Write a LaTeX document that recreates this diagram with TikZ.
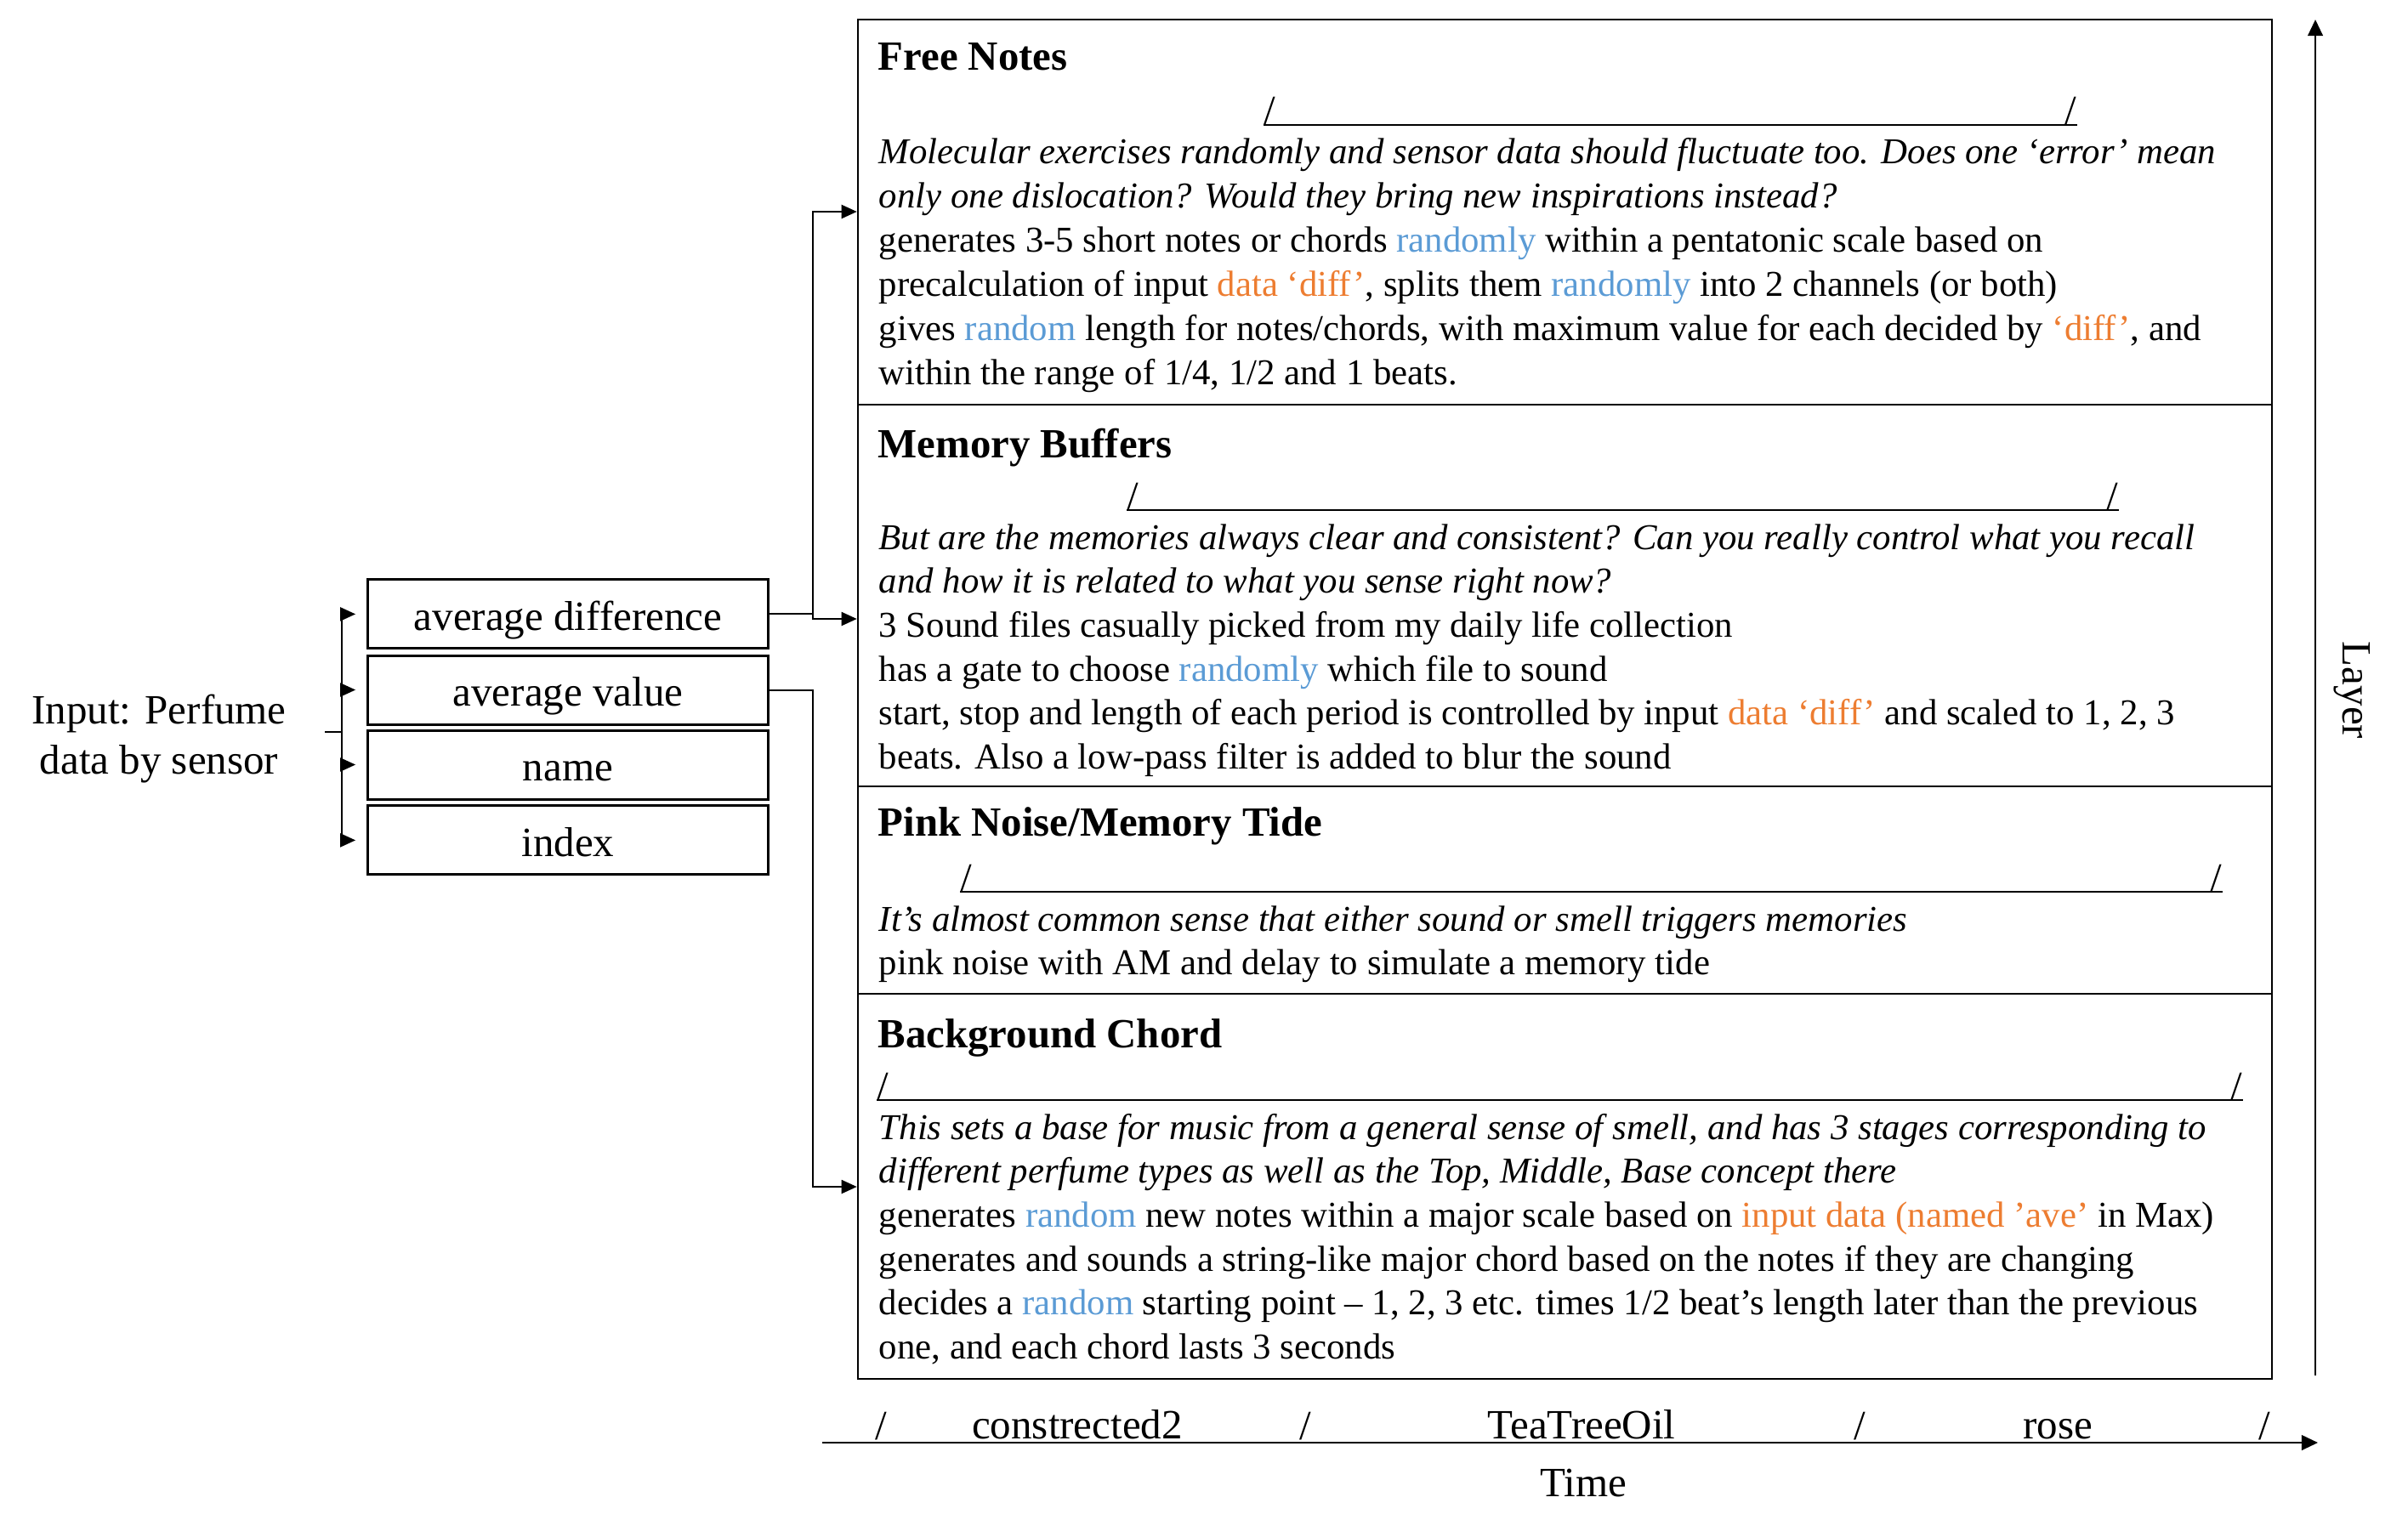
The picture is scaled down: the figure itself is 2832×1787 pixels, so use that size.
\documentclass[tikz,border=0pt]{standalone}
\usepackage{fontspec}
\setmainfont{Liberation Serif}
\usetikzlibrary{arrows.meta,fit}
\definecolor{rblue}{HTML}{5B9BD5}
\definecolor{rorange}{HTML}{ED7D31}
\newcommand{\bl}[1]{\textcolor{rblue}{#1}}
\newcommand{\orr}[1]{\textcolor{rorange}{#1}}
\newcommand{\slashline}[4]{%
  \node[slashch, anchor=base west] (#1a) at (#2,#4) {/};
  \node[slashch, anchor=base east] (#1b) at (#3,#4) {/};
  \draw[sline] (#1a.base west) -- (#1b.base east);}
\begin{document}
\begin{tikzpicture}[x=0.25pt,y=-0.25pt,
  body/.style={anchor=base west, inner sep=0, font=\fontsize{10.7}{13}\selectfont},
  ibody/.style={anchor=base west, inner sep=0, font=\fontsize{10.7}{13}\selectfont\itshape},
  ttl/.style={anchor=base west, inner sep=0, font=\fontsize{12.2}{14}\selectfont\bfseries},
  lbl/.style={inner sep=0, font=\fontsize{12.25}{14}\selectfont},
  slashch/.style={inner sep=0, font=\fontsize{12.25}{14}\selectfont},
  sline/.style={line width=0.55pt},
  sec/.style={draw, line width=0.65pt, inner sep=0},
  inbox/.style={draw, line width=0.75pt, inner sep=0, minimum width=117.6pt, minimum height=20.25pt,
     font=\fontsize{12.25}{14}\selectfont, text height=11pt, text depth=1.5pt},
  conn/.style={line width=0.5pt},
  arr/.style={line width=0.5pt, -{Triangle[length=4.5pt,width=4pt]}},
  axarr/.style={line width=0.65pt, -{Triangle[length=4.8pt,width=4.4pt]}}
]
\useasboundingbox (0,0) rectangle (2832,1787);

% section boxes
\node[sec, fit={(1009,23) (2672,476)}] (fn) {};
\node[sec, fit={(1009,476) (2672,925)}] (mb) {};
\node[sec, fit={(1009,925) (2672,1169)}] (pn) {};
\node[sec, fit={(1009,1169) (2672,1622)}] (bc) {};

% Free Notes
\node[ttl] (fnt) at (1032,83) {Free Notes};
\slashline{fns}{1486}{2443}{147}
\node[ibody] (fn1) at (1033,193) {Molecular exercises randomly and sensor data should fluctuate too. Does one ‘error’ mean};
\node[ibody] (fn2) at (1033,244.8) {only one dislocation? Would they bring new inspirations instead?};
\node[body] (fn3) at (1033,296.6) {generates 3-5 short notes or chords \bl{randomly} within a pentatonic scale based on};
\node[body] (fn4) at (1033,348.4) {precalculation of input \orr{data ‘diff’}, splits them \bl{randomly} into 2 channels (or both)};
\node[body] (fn5) at (1033,400.2) {gives \bl{random} length for notes/chords, with maximum value for each decided by \orr{‘diff’}, and};
\node[body] (fn6) at (1033,452) {within the range of 1/4, 1/2 and 1 beats.};

% Memory Buffers
\node[ttl] (mbt) at (1032,538) {Memory Buffers};
\slashline{mbs}{1325}{2492}{600}
\node[ibody] (mb1) at (1033,646) {But are the memories always clear and consistent? Can you really control what you recall};
\node[ibody] (mb2) at (1033,697.7) {and how it is related to what you sense right now?};
\node[body] (mb3) at (1033,749.4) {3 Sound files casually picked from my daily life collection};
\node[body] (mb4) at (1033,801) {has a gate to choose \bl{randomly} which file to sound};
\node[body] (mb5) at (1033,852.8) {start, stop and length of each period is controlled by input \orr{data ‘diff’} and scaled to 1, 2, 3};
\node[body] (mb6) at (1033,904.5) {beats. Also a low-pass filter is added to blur the sound};

% Pink Noise
\node[ttl] (pnt) at (1032,983.5) {Pink Noise/Memory Tide};
\slashline{pns}{1129}{2614}{1049}
\node[ibody] (pn1) at (1033,1095) {It’s almost common sense that either sound or smell triggers memories};
\node[body] (pn2) at (1033,1146.5) {pink noise with AM and delay to simulate a memory tide};

% Background Chord
\node[ttl] (bct) at (1032,1232) {Background Chord};
\slashline{bcs}{1031}{2638}{1294}
\node[ibody] (bc1) at (1033,1340) {This sets a base for music from a general sense of smell, and has 3 stages corresponding to};
\node[ibody] (bc2) at (1033,1391.7) {different perfume types as well as the Top, Middle, Base concept there};
\node[body] (bc3) at (1033,1443.4) {generates \bl{random} new notes within a major scale based on \orr{input data (named ’ave’} in Max)};
\node[body] (bc4) at (1033,1495) {generates and sounds a string-like major chord based on the notes if they are changing};
\node[body] (bc5) at (1033,1546.8) {decides a \bl{random} starting point – 1, 2, 3 etc. times 1/2 beat’s length later than the previous};
\node[body] (bc6) at (1033,1598.5) {one, and each chord lasts 3 seconds};

% input side
\node[lbl, align=center, anchor=base] (inp) at (187,851.7) {Input: Perfume};
\node[lbl, anchor=base] (inp2) at (187,910) {data by sensor};
\node[inbox] (ad) at (668,722.4) {average difference};
\node[inbox] (av) at (668,811.5) {average value};
\node[inbox] (nm) at (668,899.5) {name};
\node[inbox] (ix) at (668,988.4) {index};

\coordinate (bin) at (382,861);
\coordinate (bm) at (402,861);
\draw[conn] (bin) -- (bm);
\draw[conn] (bm |- ad.west) -- (bm |- ix.west);
\foreach \b in {ad,av,nm,ix}{
  \draw[arr, shorten >=3.3pt] (bm |- \b.west) -- (\b.west);
}

\coordinate (jx) at (956,0);
\coordinate (fnin) at (0,249);
\coordinate (mbin) at (0,728);
\coordinate (bcin) at (0,1396);
\draw[conn] (ad.east) -- (ad.east -| jx);
\draw[arr] (ad.east -| jx) |- (fnin -| fn.west);
\draw[arr] (ad.east -| jx) |- (mbin -| mb.west);
\draw[arr] (av.east) -| (jx |- bcin) -- (bcin -| bc.west);

% axes
\coordinate (t0) at (967,1697);
\coordinate (t1) at (2726,1697);
\draw[axarr] (t0) -- (t1);
\coordinate (y0) at (2723,1618);
\coordinate (y1) at (2723,23);
\draw[axarr] (y0) -- (y1);

\node[slashch, anchor=base] (ts1) at (1036,1693) {/};
\node[slashch, anchor=base] (ts2) at (1535,1693) {/};
\node[slashch, anchor=base] (ts3) at (2187,1693) {/};
\node[slashch, anchor=base] (ts4) at (2663,1693) {/};
\node[lbl, anchor=base] (t-c) at (1267,1692) {constrected2};
\node[lbl, anchor=base] (t-t) at (1860,1692) {TeaTreeOil};
\node[lbl, anchor=base] (t-r) at (2420,1692) {rose};
\node[lbl, anchor=base] (time) at (1862,1760) {Time};
\node[lbl, rotate=-90] (layer) at (2766,812) {Layer};
\end{tikzpicture}
\end{document}
